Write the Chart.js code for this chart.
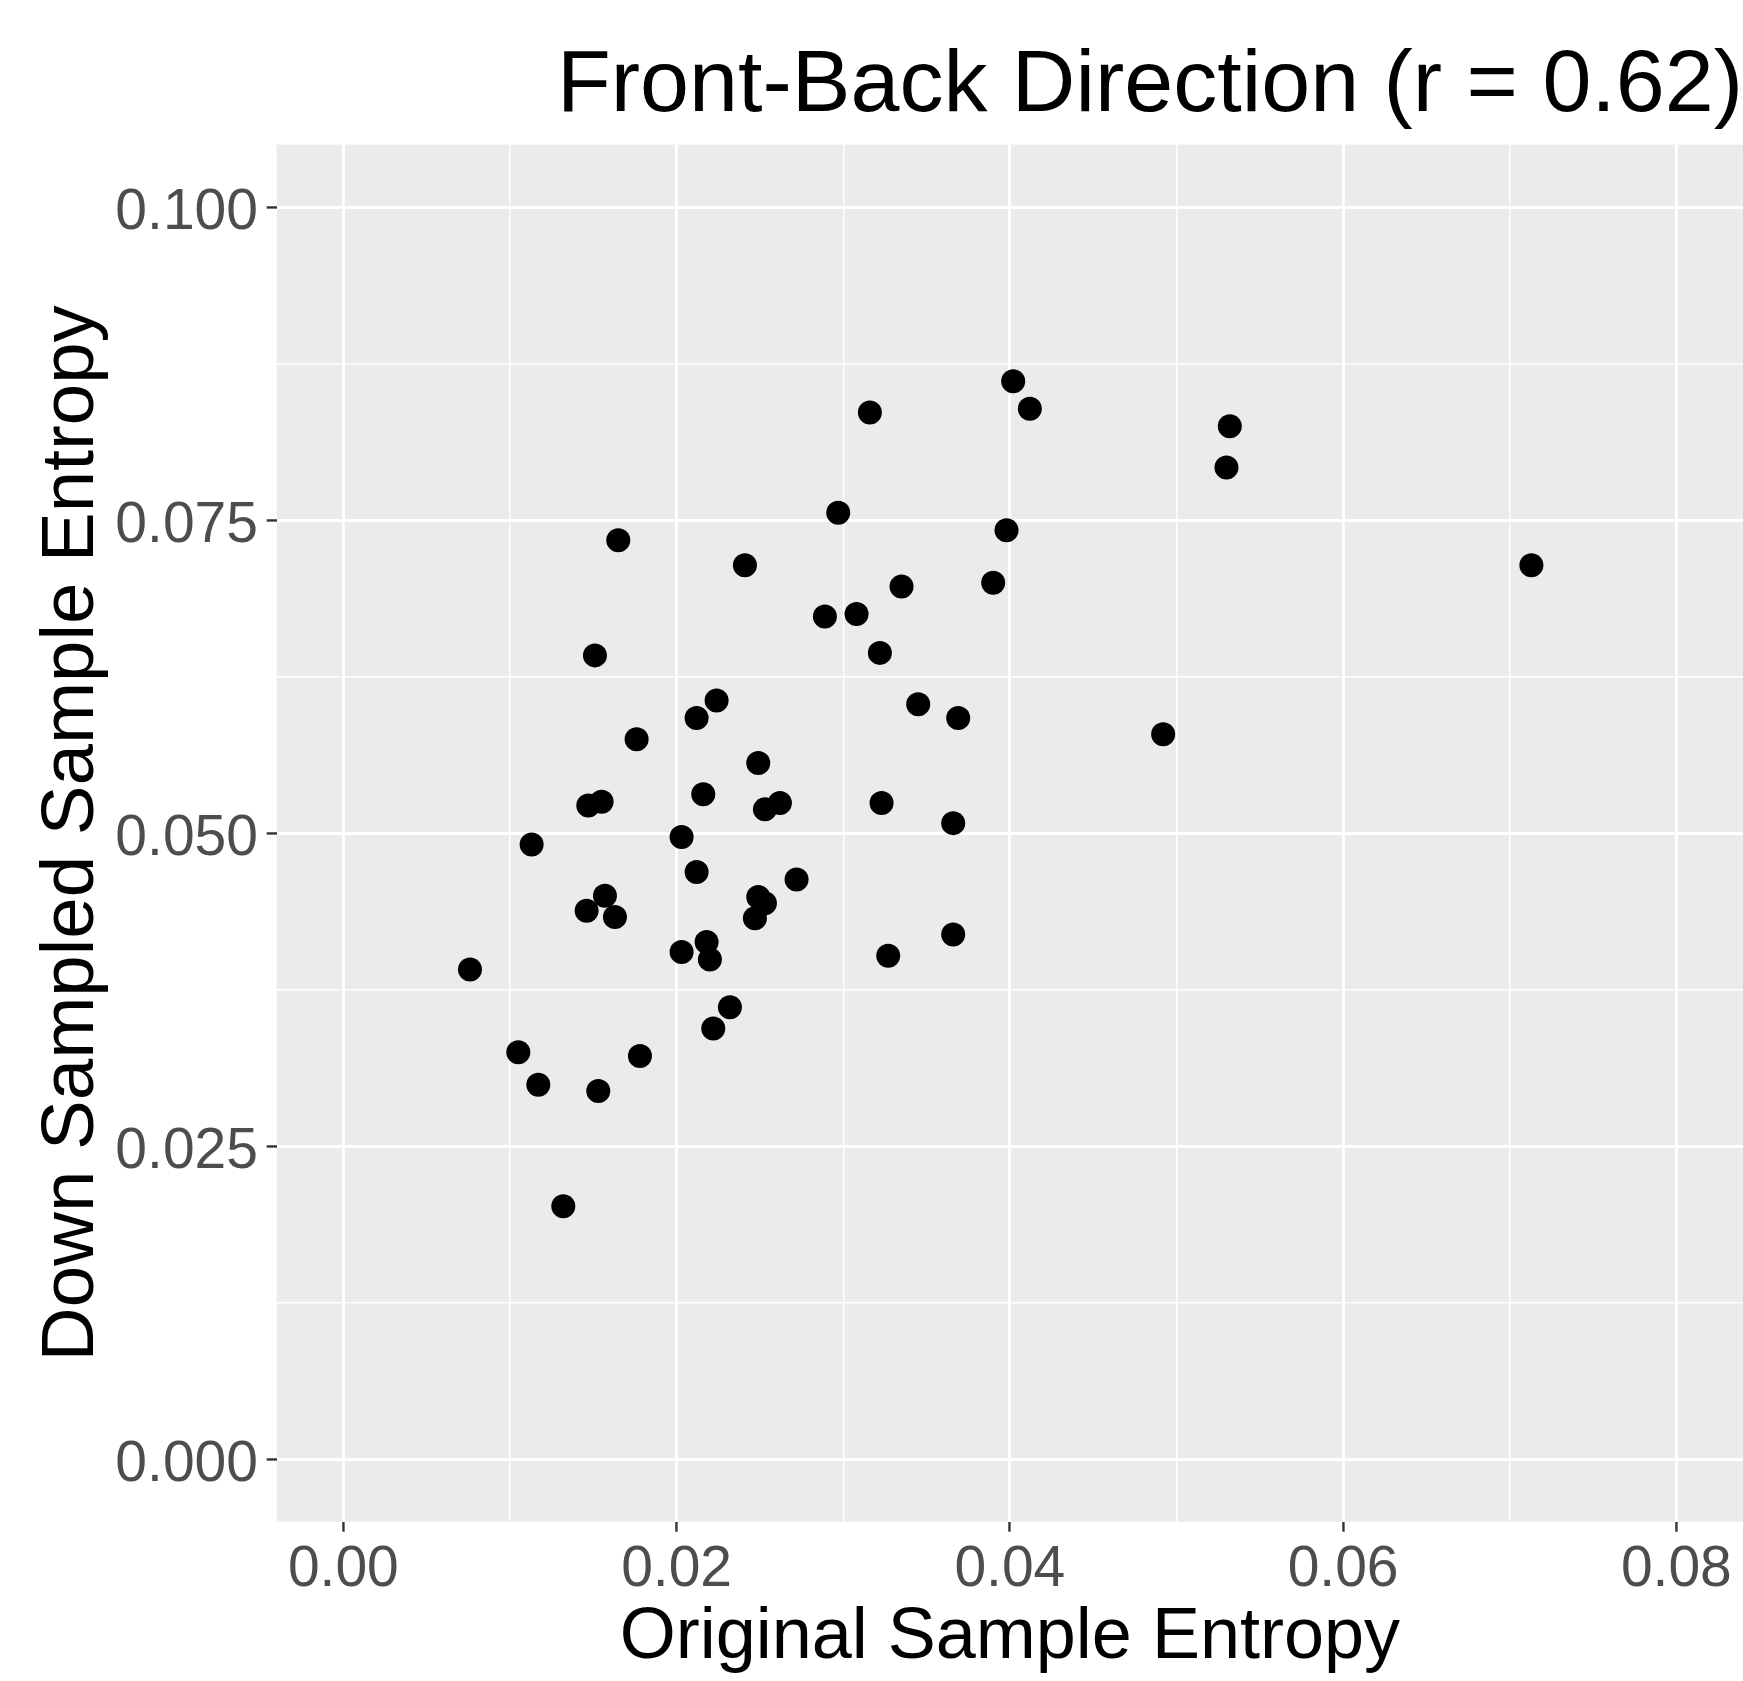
<!DOCTYPE html>
<html>
<head>
<meta charset="utf-8">
<title>Front-Back Direction</title>
<script src="https://cdn.jsdelivr.net/npm/chart.js@4.4.1/dist/chart.umd.min.js"></script>
<style>
  body { margin: 0; background: #ffffff; }
  #wrap { width: 1743px; height: 1681px; }
</style>
</head>
<body>
<div id="wrap"><canvas id="entropyChart" width="1743" height="1681"></canvas></div>
<script>
// original vs down sampled sample entropy, one value per subject
const originalEntropy = [
  0.0402, 0.0412, 0.0316, 0.0532, 0.0530, 0.0297, 0.0398, 0.0165, 0.0241, 0.0713,
  0.0335, 0.0390, 0.0289, 0.0308, 0.0322, 0.0151, 0.0224, 0.0212, 0.0345, 0.0369,
  0.0492, 0.0176, 0.0249, 0.0216, 0.0147, 0.0155, 0.0253, 0.0262, 0.0323, 0.0366,
  0.0113, 0.0203, 0.0212, 0.0272, 0.0157, 0.0146, 0.0163, 0.0249, 0.0253, 0.0247,
  0.0366, 0.0218, 0.0203, 0.0220, 0.0327, 0.0076, 0.0232, 0.0222, 0.0105, 0.0178,
  0.0117, 0.0153, 0.0132
];
const downSampledEntropy = [
  0.0861, 0.0839, 0.0836, 0.0825, 0.0792, 0.0756, 0.0742, 0.0734, 0.0714, 0.0714,
  0.0697, 0.0700, 0.0673, 0.0675, 0.0644, 0.0642, 0.0606, 0.0592, 0.0603, 0.0592,
  0.0579, 0.0575, 0.0556, 0.0531, 0.0522, 0.0525, 0.0519, 0.0524, 0.0524, 0.0508,
  0.0491, 0.0497, 0.0469, 0.0463, 0.0450, 0.0438, 0.0433, 0.0449, 0.0444, 0.0432,
  0.0419, 0.0413, 0.0405, 0.0399, 0.0402, 0.0391, 0.0361, 0.0344, 0.0325, 0.0322,
  0.0299, 0.0294, 0.0202
];

const xMajorTicks = [0, 0.02, 0.04, 0.06, 0.08];
const xMinorTicks = [0.01, 0.03, 0.05, 0.07];
const xTickLabels = ["0.00", "0.02", "0.04", "0.06", "0.08"];
const yMajorTicks = [0, 0.025, 0.05, 0.075, 0.1];
const yMinorTicks = [0.0125, 0.0375, 0.0625, 0.0875];
const yTickLabels = ["0.000", "0.025", "0.050", "0.075", "0.100"];
const xLimits = [-0.004, 0.084];
const yLimits = [-0.005, 0.105];

const FONT = "'Liberation Sans', Arial, sans-serif";

function isMajor(list, v) {
  return list.some(m => Math.abs(m - v) < 1e-9);
}

function labelFor(majors, labels, v) {
  for (let i = 0; i < majors.length; i++) {
    if (Math.abs(majors[i] - v) < 1e-9) return labels[i];
  }
  return "";
}

// grey ggplot-style panel behind the points
const panelBackground = {
  id: "panelBackground",
  beforeDraw(chart) {
    const a = chart.chartArea;
    const ctx = chart.ctx;
    ctx.save();
    ctx.fillStyle = "#ffffff";
    ctx.fillRect(0, 0, chart.width, chart.height);
    ctx.fillStyle = "#ebebeb";
    ctx.fillRect(a.left, a.top, a.right - a.left, a.bottom - a.top);
    ctx.restore();
  }
};

const points = originalEntropy.map((x, i) => ({ x: x, y: downSampledEntropy[i] }));

function gridFor(majors) {
  return {
    color: "#ffffff",
    lineWidth: ctx => (ctx.tick && isMajor(majors, ctx.tick.value) ? 2.9 : 1.4),
    drawTicks: true,
    tickLength: 10,
    tickWidth: 2.4,
    tickColor: ctx => (ctx.tick && isMajor(majors, ctx.tick.value) ? "#333333" : "rgba(0,0,0,0)")
  };
}

new Chart(document.getElementById("entropyChart"), {
  type: "scatter",
  data: {
    datasets: [{
      data: points,
      backgroundColor: "#000000",
      borderWidth: 0,
      pointRadius: 12,
      pointHoverRadius: 12
    }]
  },
  options: {
    responsive: false,
    animation: false,
    devicePixelRatio: 1,
    layout: { padding: 0, autoPadding: false },
    plugins: {
      legend: { display: false },
      tooltip: { enabled: false },
      title: {
        display: true,
        text: "Front-Back Direction (r = 0.62)",
        align: "end",
        color: "#000000",
        font: { family: FONT, size: 88, weight: "normal" },
        padding: { top: 34, bottom: 5 }
      }
    },
    scales: {
      x: {
        type: "linear",
        min: xLimits[0],
        max: xLimits[1],
        border: { display: false },
        grid: gridFor(xMajorTicks),
        afterBuildTicks: axis => {
          axis.ticks = xMajorTicks.concat(xMinorTicks).sort((a, b) => a - b).map(v => ({ value: v }));
        },
        afterFit: axis => {
          axis.height = 159.3;
          axis.paddingLeft = 0;
          axis.paddingRight = 0;
        },
        ticks: {
          autoSkip: false,
          maxRotation: 0,
          padding: 4,
          color: "#4d4d4d",
          font: { family: FONT, size: 57 },
          callback: v => labelFor(xMajorTicks, xTickLabels, v)
        },
        title: {
          display: true,
          text: "Original Sample Entropy",
          color: "#000000",
          font: { family: FONT, size: 72 },
          padding: { top: 0, bottom: 0 }
        }
      },
      y: {
        type: "linear",
        min: yLimits[0],
        max: yLimits[1],
        border: { display: false },
        grid: gridFor(yMajorTicks),
        afterBuildTicks: axis => {
          axis.ticks = yMajorTicks.concat(yMinorTicks).sort((a, b) => a - b).map(v => ({ value: v }));
        },
        afterFit: axis => {
          axis.width = 276.7;
          axis.paddingTop = 0;
          axis.paddingBottom = 0;
        },
        ticks: {
          autoSkip: false,
          padding: 8.7,
          labelOffset: 6,
          color: "#4d4d4d",
          font: { family: FONT, size: 57 },
          callback: v => labelFor(yMajorTicks, yTickLabels, v)
        },
        title: {
          display: true,
          text: "Down Sampled Sample Entropy",
          color: "#000000",
          font: { family: FONT, size: 74.5 },
          padding: { top: 28, bottom: 0 }
        }
      }
    }
  },
  plugins: [panelBackground]
});
</script>
</body>
</html>
